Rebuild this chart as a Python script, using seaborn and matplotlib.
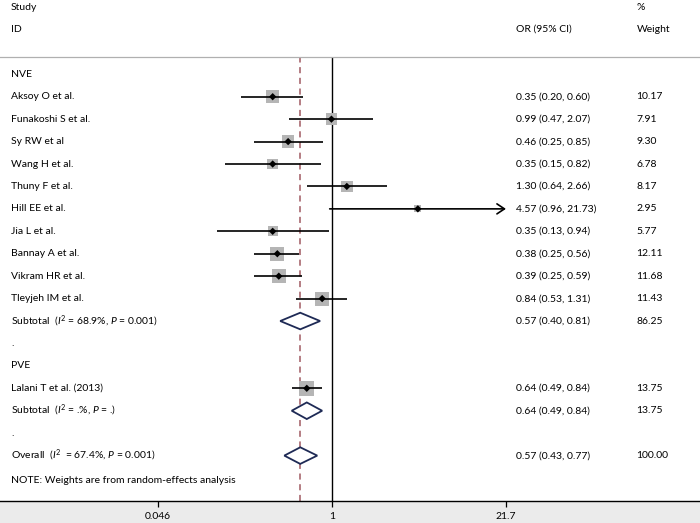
import numpy as np
import pandas as pd
import matplotlib
matplotlib.use("Agg")
import matplotlib.pyplot as plt
from matplotlib.patches import Polygon, Rectangle
import seaborn as sns

# ---------------- data ----------------
study_labels = ["Aksoy O et al.", "Funakoshi S et al.", "Sy RW et al", "Wang H et al.",
                "Thuny F et al.", "Hill EE et al.", "Jia L et al.", "Bannay A et al.",
                "Vikram HR et al.", "Tleyjeh IM et al.", "Lalani T et al. (2013)"]
study_rows = [1, 2, 3, 4, 5, 6, 7, 8, 9, 10, 14]
study_or = [0.35, 0.99, 0.46, 0.35, 1.30, 4.57, 0.35, 0.38, 0.39, 0.84, 0.64]
study_lo = [0.20, 0.47, 0.25, 0.15, 0.64, 0.96, 0.13, 0.25, 0.25, 0.53, 0.49]
study_hi = [0.60, 2.07, 0.85, 0.82, 2.66, 21.73, 0.94, 0.56, 0.59, 1.31, 0.84]
study_w = [10.17, 7.91, 9.30, 6.78, 8.17, 2.95, 5.77, 12.11, 11.68, 11.43, 13.75]

pooled_labels = [r"Subtotal  ($\mathit{I}^2$ = 68.9%, $\mathit{P}$ = 0.001)",
                 r"Subtotal  ($\mathit{I}^2$ = .%, $\mathit{P}$ = .)",
                 r"Overall  ($\mathit{I}^2$  = 67.4%, $\mathit{P}$ = 0.001)"]
pooled_rows = [11, 15, 17]
pooled_or = [0.57, 0.64, 0.57]
pooled_lo = [0.40, 0.49, 0.43]
pooled_hi = [0.81, 0.84, 0.77]
pooled_w = [86.25, 13.75, 100.00]

group_labels = ["NVE", ".", "PVE", ".", "NOTE: Weights are from random-effects analysis"]
group_rows = [0, 12, 13, 16, 18]

tick_values = [0.046, 1, 21.7]
tick_labels = ["0.046", "1", "21.7"]
overall_or = 0.57

# ---------------- style ----------------
sns.set_theme(style="white")
FONT = "Lato"
plt.rcParams["font.family"] = [FONT, "DejaVu Sans"]
plt.rcParams["mathtext.fontset"] = "custom"
plt.rcParams["mathtext.rm"] = FONT
plt.rcParams["mathtext.it"] = FONT + ":italic"
FS = 7.5

df = pd.DataFrame({"row": study_rows, "or": study_or, "lo": study_lo,
                   "hi": study_hi, "w": study_w, "label": study_labels})

fig = plt.figure(figsize=(7.0, 5.23), dpi=100)
fig.patch.set_facecolor("white")
fig.patches.append(Rectangle((0, 0), 1, 22 / 523, transform=fig.transFigure,
                             facecolor="#ebebeb", edgecolor="none", zorder=-5))
ax = fig.add_axes([0, 22 / 523, 1, 444 / 523])
ax.set_facecolor("none")

ax.set_xscale("log")
ax.set_xlim(np.exp(-332 / 56.5), np.exp(368 / 56.5))
ax.set_ylim(19.024, -0.771)

# reference lines
ax.axvline(1, color="black", lw=1.0, zorder=1)
ax.axvline(overall_or, color="#a05a62", lw=1.1, ls=(0, (4, 3)), zorder=1)

# confidence intervals
for _, r in df.iterrows():
    if r["hi"] > 20:
        ax.annotate("", xy=(r["hi"], r["row"]), xytext=(r["lo"], r["row"]),
                    arrowprops=dict(arrowstyle="->,head_length=0.45,head_width=0.3",
                                    color="black", lw=1.2, shrinkA=0, shrinkB=0),
                    zorder=3)
    else:
        ax.hlines(r["row"], r["lo"], r["hi"], color="black", lw=1.2, zorder=3)

# weight boxes (area proportional to weight)
k = 8.7
sns.scatterplot(data=df, x="or", y="row", size="w", sizes=(k * min(study_w), k * max(study_w)),
                size_norm=(min(study_w), max(study_w)), marker="s", color="#b5b5b5",
                edgecolor="none", legend=False, ax=ax, zorder=2)
# point estimates
sns.scatterplot(data=df, x="or", y="row", marker="D", color="black", s=14,
                edgecolor="none", legend=False, ax=ax, zorder=4)

# pooled diamonds
for y, o, lo, hi in zip(pooled_rows, pooled_or, pooled_lo, pooled_hi):
    poly = Polygon([(lo, y), (o, y - 0.37), (hi, y), (o, y + 0.37)], closed=True,
                   facecolor="white", edgecolor="#1e2a55", lw=1.3, zorder=4)
    ax.add_patch(poly)

# text columns
tx_left = ax.get_xlim()[0] * np.exp(11 / 56.5)
tx_or = np.exp((516 - 332) / 56.5)
tx_w = np.exp((636.5 - 332) / 56.5)

def txt(x, y, s, **kw):
    ax.text(x, y, s, fontsize=FS, va="center", ha="left", color="black",
            clip_on=False, **kw)

txt(tx_left, -3.0, "Study")
txt(tx_left, -2.0, "ID")
txt(tx_or, -2.0, "OR (95% CI)")
txt(tx_w, -3.0, "%")
txt(tx_w, -2.0, "Weight")

for y, s in zip(group_rows, group_labels):
    txt(tx_left, y + (0.1 if y == 18 else 0), s)

for _, r in df.iterrows():
    txt(tx_left, r["row"], r["label"])
    txt(tx_or, r["row"], f"{r['or']:.2f} ({r['lo']:.2f}, {r['hi']:.2f})")
    txt(tx_w, r["row"], f"{r['w']:.2f}")

for y, s, o, lo, hi, w in zip(pooled_rows, pooled_labels, pooled_or, pooled_lo, pooled_hi, pooled_w):
    txt(tx_left, y, s)
    txt(tx_or, y, f"{o:.2f} ({lo:.2f}, {hi:.2f})")
    txt(tx_w, y, f"{w:.2f}")

# axes / spines
ax.set_yticks([])
ax.set_xlabel("")
ax.set_ylabel("")
ax.set_xticks(tick_values)
ax.set_xticklabels(tick_labels)
ax.xaxis.set_minor_locator(matplotlib.ticker.NullLocator())
ax.tick_params(axis="x", direction="out", length=4.5, width=0.9, pad=3.5,
               labelsize=FS, colors="black", bottom=True)
for side in ["left", "right"]:
    ax.spines[side].set_visible(False)
ax.spines["bottom"].set_color("black")
ax.spines["bottom"].set_linewidth(1.0)
ax.spines["top"].set_color("#b0b0b0")
ax.spines["top"].set_linewidth(0.9)

fig.savefig("out.png", dpi=100)
